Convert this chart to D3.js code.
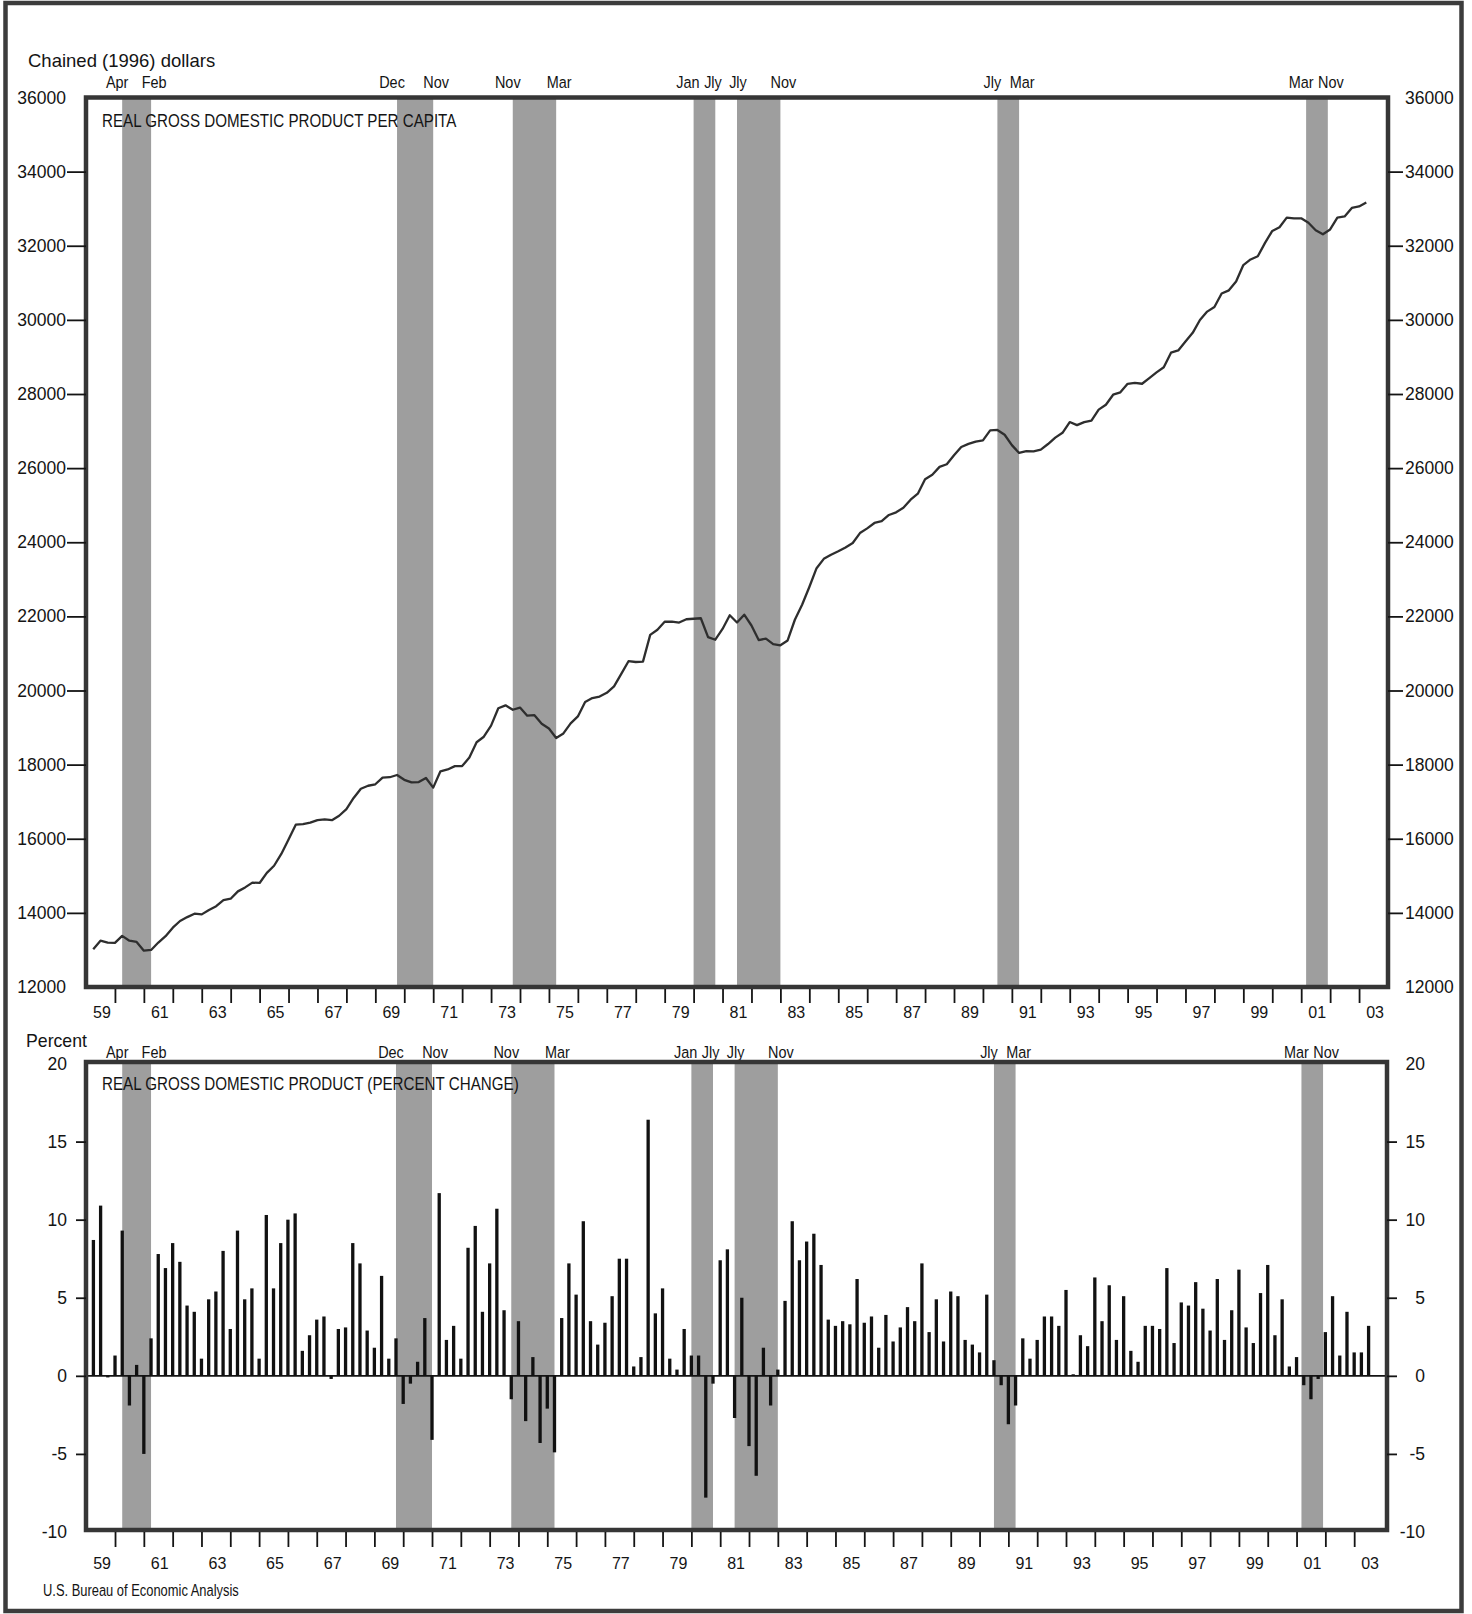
<!DOCTYPE html>
<html><head><meta charset="utf-8">
<script src="https://cdn.jsdelivr.net/npm/d3@7"></script>
<style>
body{margin:0;background:#fff}
svg{display:block}
text{font-family:"Liberation Sans",Arial,Helvetica,sans-serif;fill:#141414}
</style>
</head><body>
<svg id="chart" width="1472" height="1614"></svg>
<script>
// ---------------- DATA ----------------
const firstYear = 1959; // first quarter = 1959 Q1
// Real GDP per capita, chained (1996) dollars, quarterly 1959Q1 - 2003Q1
const gdpPerCapita = [
 13020,13250,13200,13190, 13380,13250,13215,12980, 13000,13200,13370,13600,
 13780,13886,13977,13959, 14080,14179,14344,14382, 14580,14687,14816,14807,
 15080,15271,15591,15977, 16380,16392,16433,16504, 16520,16500,16620,16800,
 17100,17350,17430,17470, 17650,17660,17720,17590, 17520,17530,17640,17380,
 17820,17870,17960,17960, 18190,18604,18753,19052, 19520,19600,19480,19540,
 19320,19333,19105,18974, 18720,18841,19114,19300, 19690,19795,19837,19938,
 20110,20450,20790,20769, 20780,21500,21640,21855, 21860,21833,21923,21936,
 21950,21440,21370,21660, 22030,21834,22046,21754, 21360,21400,21250,21220,
 21350,21909,22313,22791, 23300,23552,23662,23755, 23860,23981,24248,24374,
 24520,24570,24736,24808, 24930,25148,25310,25702, 25820,26034,26104,26345,
 26570,26653,26717,26749, 27020,27030,26900,26620, 26410,26460,26450,26500,
 26650,26822,26953,27243, 27160,27241,27282,27578, 27710,27981,28046,28276,
 28300,28277,28430,28583, 28720,29114,29176,29418, 29650,29998,30223,30346,
 30710,30797,31035,31479, 31630,31716,32077,32400, 32500,32760,32740,32740,
 32620,32420,32310,32440, 32760,32790,33020,33060, 33170
];
// Real GDP, percent change from preceding quarter (annual rate), 1959Q1 - 2003Q2
const gdpChange = [
 8.7,10.9,-0.1,1.3, 9.3,-1.9,0.7,-5.0, 2.4,7.8,6.9,8.5,
 7.3,4.5,4.1,1.1, 4.9,5.4,8.0,3.0, 9.3,4.9,5.6,1.1,
 10.3,5.6,8.5,10.0, 10.4,1.6,2.6,3.6, 3.8,-0.2,3.0,3.1,
 8.5,7.2,2.9,1.8, 6.4,1.1,2.4,-1.8, -0.5,0.9,3.7,-4.1,
 11.7,2.3,3.2,1.1, 8.2,9.6,4.1,7.2, 10.7,4.2,-1.5,3.5,
 -2.9,1.2,-4.3,-2.1, -4.9,3.7,7.2,5.2, 9.9,3.5,2.0,3.4,
 5.1,7.5,7.5,0.6, 1.2,16.4,4.0,5.6, 1.1,0.4,3.0,1.3,
 1.3,-7.8,-0.5,7.4, 8.1,-2.7,5.0,-4.5, -6.4,1.8,-1.9,0.4,
 4.8,9.9,7.4,8.6, 9.1,7.1,3.6,3.2, 3.5,3.3,6.2,3.4,
 3.8,1.8,3.9,2.2, 3.1,4.4,3.5,7.2, 2.8,4.9,2.2,5.4,
 5.1,2.3,2.0,1.5, 5.2,1.0,-0.6,-3.1, -1.9,2.4,1.1,2.3,
 3.8,3.8,3.2,5.5, 0.1,2.6,1.9,6.3, 3.5,5.8,2.3,5.1,
 1.6,0.9,3.2,3.2, 3.0,6.9,2.1,4.7, 4.5,6.0,4.3,2.9,
 6.2,2.3,4.2,6.8, 3.1,2.1,5.3,7.1, 2.6,4.9,0.6,1.2,
 -0.6,-1.5,-0.2,2.8, 5.1,1.3,4.1,1.5, 1.5,3.2
];
// Business-cycle reference dates [year, month] and the shaded spans (decimal years)
const recessionPeaks   = [[1960,4],[1969,12],[1973,11],[1980,1],[1981,7],[1990,7],[2001,3]];
const recessionTroughs = [[1961,2],[1970,11],[1975,3],[1980,7],[1982,11],[1991,3],[2001,11]];
const shadeFrom = [1960.25, 1969.75, 1973.75, 1980.0, 1981.5, 1990.5, 2001.17];
const shadeTo   = [1961.25, 1971.0, 1975.25, 1980.75, 1983.0, 1991.25, 2001.92];
const monthNames = ["Jan","Feb","Mar","Apr","May","Jun","Jly","Aug","Sep","Oct","Nov","Dec"];
const levelTicks  = [12000,14000,16000,18000,20000,22000,24000,26000,28000,30000,32000,34000,36000];
const changeTicks = [-10,-5,0,5,10,15,20];
const yearTicks   = d3.range(1960, 2004);
const yearLabels  = d3.range(1959, 2004, 2);
const topTitle    = "REAL GROSS DOMESTIC PRODUCT PER CAPITA";
const bottomTitle = "REAL GROSS DOMESTIC PRODUCT (PERCENT CHANGE)";
const topUnit     = "Chained (1996) dollars";
const bottomUnit  = "Percent";
const sourceNote  = "U.S. Bureau of Economic Analysis";

// ---------------- DRAW ----------------
const svg = d3.select("#chart");
const INK = "#141414", FRAME = "#363636", SHADE = "#9e9e9e";

// outer page border
svg.append("rect").attr("x",5.5).attr("y",3).attr("width",1456).attr("height",1608)
   .attr("fill","none").attr("stroke","#3c3c3c").attr("stroke-width",4.5);

function ctext(g, x, y, str, size, sx, anchor){
  return g.append("text")
    .attr("transform",`translate(${x},${y}) scale(${sx},1)`)
    .attr("text-anchor", anchor || "start")
    .style("font-size", size + "px")
    .text(str);
}
const qTime = i => firstYear + (i+1)/4;

function panel(opts){
  const {x, top, bottom} = opts;
  const g = svg.append("g");
  const labels = [];
  shadeFrom.forEach((f,k) => {
    const x0 = x(f), x1 = x(shadeTo[k]);
    g.append("rect").attr("x",x0).attr("y",top).attr("width",x1-x0).attr("height",bottom-top)
      .attr("fill",SHADE);
    labels.push({cx:x0-5, s:monthNames[recessionPeaks[k][1]-1]});
    labels.push({cx:x1+3, s:monthNames[recessionTroughs[k][1]-1]});
  });
  // keep neighbouring month labels from colliding
  for (let it=0; it<4; it++){
    for (let k=0; k<labels.length-1; k++){
      const gap = labels[k+1].cx - labels[k].cx;
      if (gap < 25){ const d=(25-gap)/2; labels[k].cx-=d; labels[k+1].cx+=d; }
    }
  }
  labels.forEach(l => ctext(g, l.cx, opts.monthY, l.s, 17, 0.85, "middle"));
  return g;
}

function styleAxis(g, size, hideEnds){
  g.select(".domain").remove();
  g.selectAll("text").style("font-size", size+"px").attr("fill",INK);
  g.selectAll("line").attr("stroke",INK).attr("stroke-width",1.8);
  if (hideEnds) g.selectAll(".tick").filter(d => d===hideEnds[0]||d===hideEnds[1]).select("line").remove();
}
const yearFmt = d => String(Math.floor(d)%100).padStart(2,"0");

// ===== TOP PANEL =====
const T = {left:86, right:1388, top:97.5, bottom:987};
const xTop = d3.scaleLinear().domain([1959, 2004]).range([T.left, T.right]);
const yTop = d3.scaleLinear().domain([12000, 36000]).range([T.bottom, T.top]);
const gTop = panel({x:xTop, top:T.top, bottom:T.bottom, monthY:88});

gTop.append("path")
  .datum(gdpPerCapita)
  .attr("fill","none").attr("stroke","#2e2e2e").attr("stroke-width",2.3)
  .attr("stroke-linejoin","round")
  .attr("d", d3.line().x((d,i)=>xTop(qTime(i))).y(d=>yTop(d)));

gTop.append("rect").attr("x",T.left).attr("y",T.top).attr("width",T.right-T.left).attr("height",T.bottom-T.top)
  .attr("fill","none").attr("stroke",FRAME).attr("stroke-width",4.5);
ctext(gTop, 102, 127, topTitle, 18.5, 0.82, "start");
svg.append("text").attr("x",28).attr("y",67).style("font-size","18.5px").text(topUnit);

const fmtNum = d => String(d);
svg.append("g").attr("transform",`translate(${T.left},0)`)
  .call(d3.axisLeft(yTop).tickValues(levelTicks).tickSize(19).tickPadding(1).tickFormat(fmtNum))
  .call(g=>styleAxis(g,17.5,[12000,36000]));
svg.append("g").attr("transform",`translate(${T.right},0)`)
  .call(d3.axisRight(yTop).tickValues(levelTicks).tickSize(15).tickPadding(2).tickFormat(fmtNum))
  .call(g=>styleAxis(g,17.5,[12000,36000]));
svg.append("g").attr("transform",`translate(0,${T.bottom+2})`)
  .call(d3.axisBottom(xTop).tickValues(yearTicks).tickSize(14).tickFormat(""))
  .call(g=>styleAxis(g,16));
svg.append("g").attr("transform",`translate(1,${T.bottom+20})`)
  .call(d3.axisBottom(xTop).tickValues(yearLabels.map(v=>v+0.5)).tickSize(0).tickPadding(0).tickFormat(yearFmt))
  .call(g=>styleAxis(g,16));

// ===== BOTTOM PANEL =====
const B = {left:86, right:1387, top:1062, bottom:1530};
const xBot = d3.scaleLinear().domain([1959, 2004]).range([86.2, 1383]);
const yBot = d3.scaleLinear().domain([-10, 20]).range([1532, 1063.5]);
const gBot = panel({x:xBot, top:B.top, bottom:B.bottom, monthY:1058});

gBot.append("line").attr("x1",B.left).attr("x2",B.right).attr("y1",yBot(0)).attr("y2",yBot(0))
  .attr("stroke",INK).attr("stroke-width",1.6);
const barW = 3.3;
gBot.selectAll("rect.bar").data(gdpChange).join("rect").attr("class","bar")
  .attr("x",(d,i)=>xBot(qTime(i))-barW/2)
  .attr("y",d=>yBot(Math.max(0,d)))
  .attr("width",barW)
  .attr("height",d=>Math.max(0.8,Math.abs(yBot(d)-yBot(0))))
  .attr("fill","#111");

gBot.append("rect").attr("x",B.left).attr("y",B.top).attr("width",B.right-B.left).attr("height",B.bottom-B.top)
  .attr("fill","none").attr("stroke",FRAME).attr("stroke-width",4.5);
ctext(gBot, 102, 1090, bottomTitle, 18.5, 0.82, "start");
svg.append("text").attr("x",26).attr("y",1047).style("font-size","17.7px").text(bottomUnit);

svg.append("g").attr("transform",`translate(${B.left},0)`)
  .call(d3.axisLeft(yBot).tickValues(changeTicks).tickSize(10).tickPadding(9).tickFormat(fmtNum))
  .call(g=>styleAxis(g,17.5,[-10,20]));
svg.append("g").attr("transform",`translate(${B.right},0)`)
  .call(d3.axisRight(yBot).tickValues(changeTicks).tickSize(10).tickPadding(2).tickFormat(fmtNum))
  .call(g=>styleAxis(g,17.5,[-10,20]))
  .call(g=>g.selectAll("text").attr("text-anchor","end").attr("x",38));
svg.append("g").attr("transform",`translate(0,${B.bottom+2})`)
  .call(d3.axisBottom(xBot).tickValues(yearTicks).tickSize(15).tickFormat(""))
  .call(g=>styleAxis(g,16));
svg.append("g").attr("transform",`translate(1,${B.bottom+28})`)
  .call(d3.axisBottom(xBot).tickValues(yearLabels.map(v=>v+0.5)).tickSize(0).tickPadding(0).tickFormat(yearFmt))
  .call(g=>styleAxis(g,16));

ctext(svg, 43, 1596, sourceNote, 17, 0.76, "start");
</script>
</body></html>
